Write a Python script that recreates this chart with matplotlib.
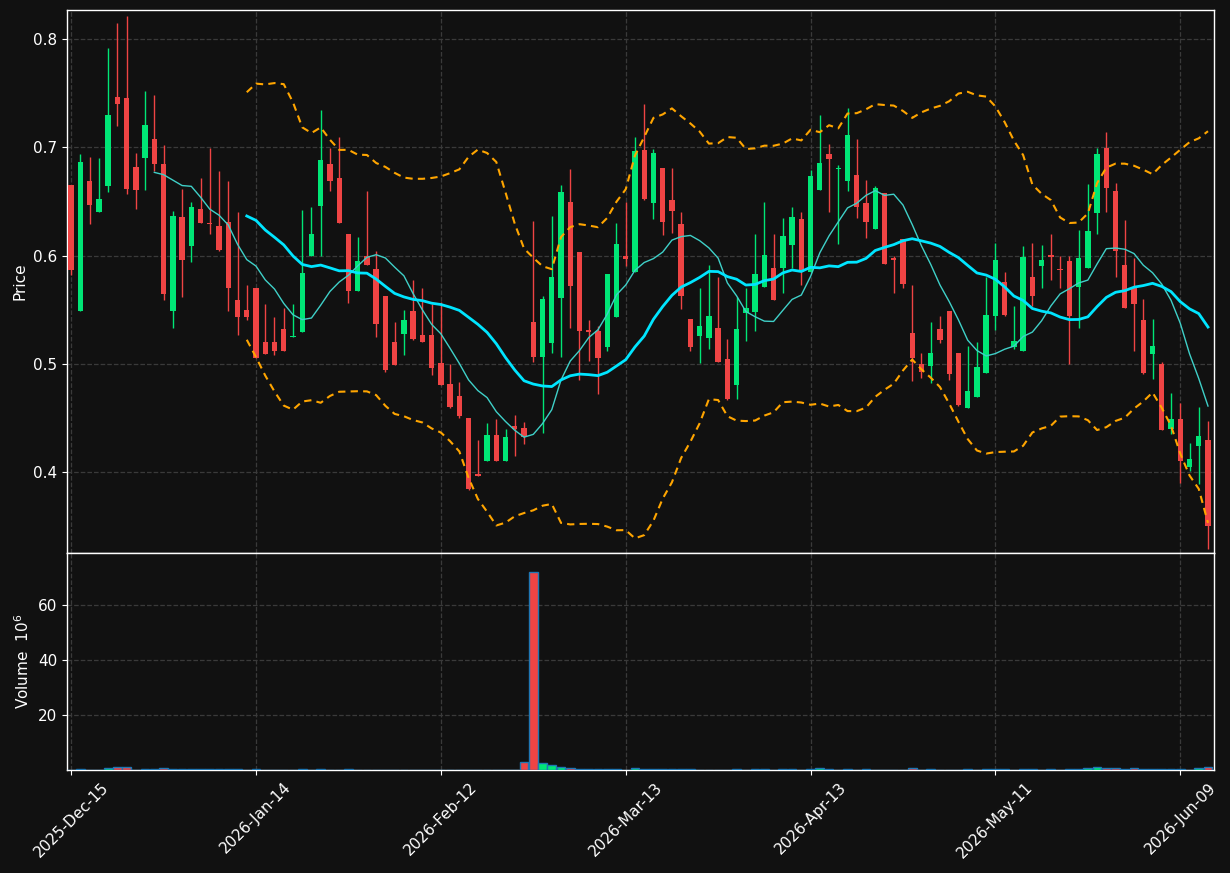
import numpy as np
import pandas as pd
import matplotlib
matplotlib.use("Agg")
import matplotlib.pyplot as plt

# ---------------- data ----------------
holidays = ["2025-12-25", "2026-01-01", "2026-01-19", "2026-02-16", "2026-04-03", "2026-05-25"]
all_days = pd.bdate_range("2025-12-15", "2026-06-12")
dates = all_days[~all_days.isin(pd.to_datetime(holidays))]

opens = [0.6654, 0.5492, 0.6689, 0.6406, 0.6638, 0.7465, 0.7449, 0.6819, 0.6896, 0.7071,
         0.6848, 0.5492, 0.6358, 0.6091, 0.6431, 0.6304, 0.6275, 0.6310, 0.5591, 0.5499,
         0.5702, 0.5203, 0.5203, 0.5324, 0.5244, 0.5298, 0.5992, 0.6453, 0.6848, 0.6718,
         0.6202, 0.5677, 0.5998, 0.5878, 0.5629, 0.5203, 0.5279, 0.5489, 0.5267, 0.5267,
         0.5009, 0.4815, 0.4703, 0.4500, 0.3978, 0.4102, 0.4344, 0.4102, 0.4426, 0.4407,
         0.5387, 0.5066, 0.5193, 0.5604, 0.6495, 0.6033, 0.5314, 0.5305, 0.5158, 0.5429,
         0.5998, 0.5852, 0.6969, 0.6482, 0.6810, 0.6514, 0.6294, 0.5416, 0.5260, 0.5235,
         0.5333, 0.5047, 0.4802, 0.5470, 0.5483, 0.5706, 0.5887, 0.5881, 0.6094, 0.6339,
         0.5852, 0.6600, 0.6940, 0.6794, 0.6692, 0.6746, 0.6488, 0.6240, 0.6581, 0.5979,
         0.6154, 0.5286, 0.4999, 0.4983, 0.5324, 0.5489, 0.5101, 0.4595, 0.4697, 0.4920,
         0.5445, 0.5757, 0.5158, 0.5123, 0.5804, 0.5900, 0.5998, 0.5868, 0.5951, 0.5706,
         0.5881, 0.6390, 0.6991, 0.6597, 0.5916, 0.5702, 0.5407, 0.5095, 0.5000, 0.4395,
         0.4496, 0.4051, 0.4245, 0.4302]
highs = [0.6654, 0.6934, 0.6909, 0.6899, 0.7917, 0.8146, 0.8213, 0.6947, 0.7520, 0.7481,
         0.7020, 0.6409, 0.6613, 0.6492, 0.6714, 0.6994, 0.6784, 0.6689, 0.6400, 0.5725,
         0.5702, 0.5550, 0.5435, 0.5515, 0.5550, 0.6418, 0.6447, 0.7344, 0.6994, 0.7093,
         0.6202, 0.6170, 0.6593, 0.6043, 0.5629, 0.5384, 0.5496, 0.5772, 0.5699, 0.5550,
         0.5572, 0.5000, 0.4831, 0.4500, 0.4302, 0.4452, 0.4490, 0.4395, 0.4525, 0.4465,
         0.6320, 0.5629, 0.6364, 0.6651, 0.6797, 0.6033, 0.5403, 0.5349, 0.5830, 0.6301,
         0.6495, 0.7093, 0.7402, 0.6982, 0.6810, 0.6807, 0.6399, 0.5416, 0.5699, 0.5912,
         0.5801, 0.5228, 0.5620, 0.5699, 0.6199, 0.6495, 0.6199, 0.6345, 0.6447, 0.6399,
         0.6791, 0.7297, 0.7029, 0.6839, 0.7360, 0.7074, 0.6698, 0.6641, 0.6581, 0.5998,
         0.6154, 0.5725, 0.5098, 0.5384, 0.5442, 0.5489, 0.5101, 0.5162, 0.5200, 0.5801,
         0.6119, 0.5852, 0.5534, 0.6088, 0.6119, 0.6097, 0.6199, 0.5998, 0.5992, 0.6234,
         0.6660, 0.6991, 0.7141, 0.6670, 0.6326, 0.5979, 0.5597, 0.5413, 0.5018, 0.4732,
         0.4636, 0.4267, 0.4598, 0.4471]
lows = [0.5820, 0.5492, 0.6291, 0.6406, 0.6587, 0.7195, 0.6568, 0.6428, 0.6603, 0.6781,
        0.5588, 0.5330, 0.5617, 0.5944, 0.6298, 0.6202, 0.6037, 0.5486, 0.5263, 0.5403,
        0.5050, 0.5095, 0.5079, 0.5123, 0.5244, 0.5298, 0.5992, 0.5992, 0.6593, 0.6298,
        0.5566, 0.5677, 0.5916, 0.5247, 0.4923, 0.4993, 0.5079, 0.5222, 0.5203, 0.4897,
        0.4808, 0.4595, 0.4500, 0.3838, 0.3968, 0.4102, 0.4102, 0.4102, 0.4146, 0.4261,
        0.5018, 0.4366, 0.5098, 0.5066, 0.5327, 0.4850, 0.5025, 0.4722, 0.5120, 0.5429,
        0.5900, 0.5852, 0.6511, 0.6336, 0.6189, 0.6208, 0.5505, 0.5117, 0.5006, 0.5142,
        0.5021, 0.4665, 0.4678, 0.5209, 0.5302, 0.5706, 0.5594, 0.5652, 0.5881, 0.5725,
        0.5852, 0.6600, 0.6403, 0.6107, 0.6597, 0.6345, 0.6161, 0.6240, 0.5919, 0.5652,
        0.5699, 0.4840, 0.4869, 0.4821, 0.5193, 0.4850, 0.4608, 0.4595, 0.4697, 0.4920,
        0.5311, 0.5438, 0.5142, 0.5123, 0.5534, 0.5699, 0.5772, 0.5699, 0.5000, 0.5327,
        0.5881, 0.6199, 0.6399, 0.5798, 0.5512, 0.5117, 0.4910, 0.4859, 0.4391, 0.4356,
        0.3905, 0.4013, 0.3895, 0.3290]
closes = [0.5862, 0.6867, 0.6463, 0.6523, 0.7300, 0.7395, 0.6609, 0.6600, 0.7208, 0.6842,
          0.5648, 0.6368, 0.5963, 0.6450, 0.6298, 0.6288, 0.6053, 0.5696, 0.5429, 0.5429,
          0.5050, 0.5095, 0.5120, 0.5123, 0.5250, 0.5839, 0.6202, 0.6883, 0.6692, 0.6298,
          0.5677, 0.5951, 0.5916, 0.5365, 0.4948, 0.4993, 0.5406, 0.5232, 0.5203, 0.4958,
          0.4808, 0.4605, 0.4522, 0.3847, 0.3968, 0.4344, 0.4102, 0.4325, 0.4395, 0.4325,
          0.5066, 0.5601, 0.5804, 0.6590, 0.5715, 0.5308, 0.5298, 0.5050, 0.5830, 0.6110,
          0.5967, 0.6963, 0.6523, 0.6950, 0.6313, 0.6415, 0.5623, 0.5158, 0.5349, 0.5442,
          0.5021, 0.4678, 0.5324, 0.5512, 0.5830, 0.6008, 0.5594, 0.6183, 0.6358, 0.5846,
          0.6737, 0.6858, 0.6886, 0.6807, 0.7115, 0.6444, 0.6313, 0.6622, 0.5919, 0.5954,
          0.5741, 0.5050, 0.4923, 0.5101, 0.5216, 0.4910, 0.4624, 0.4751, 0.4967, 0.5451,
          0.5960, 0.5451, 0.5209, 0.5989, 0.5623, 0.5957, 0.5989, 0.5862, 0.5445, 0.5979,
          0.6228, 0.6940, 0.6619, 0.6046, 0.5512, 0.5556, 0.4920, 0.5165, 0.4391, 0.4496,
          0.4108, 0.4127, 0.4331, 0.3507]
volumes_m = [0.1, 0.25, 0.05, 0.05, 0.6, 1.0, 1.0, 0.05, 0.25, 0.25,
             0.6, 0.25, 0.25, 0.25, 0.25, 0.25, 0.25, 0.25, 0.25, 0.05,
             0.25, 0.05, 0.05, 0.05, 0.05, 0.25, 0.05, 0.25, 0.05, 0.05,
             0.25, 0.05, 0.05, 0.05, 0.05, 0.05, 0.05, 0.05, 0.05, 0.05,
             0.05, 0.05, 0.05, 0.05, 0.05, 0.05, 0.05, 0.05, 0.05, 2.8,
             72.0, 2.7, 1.9, 1.2, 0.6, 0.5, 0.25, 0.25, 0.25, 0.25,
             0.05, 0.6, 0.25, 0.25, 0.25, 0.25, 0.25, 0.25, 0.05, 0.05,
             0.05, 0.05, 0.25, 0.05, 0.25, 0.25, 0.05, 0.25, 0.25, 0.05,
             0.25, 0.7, 0.25, 0.05, 0.25, 0.05, 0.25, 0.05, 0.05, 0.05,
             0.05, 0.7, 0.05, 0.25, 0.05, 0.05, 0.05, 0.25, 0.05, 0.25,
             0.25, 0.25, 0.05, 0.25, 0.25, 0.05, 0.25, 0.05, 0.25, 0.25,
             0.7, 1.1, 0.7, 0.7, 0.25, 0.7, 0.25, 0.25, 0.25, 0.25,
             0.25, 0.05, 0.7, 1.1]

# ---------------- style ----------------
BG = "#111111"
UP = "#00e676"
DOWN = "#ef4444"
GRID = "#3a3a3a"

o = np.array(opens); h = np.array(highs); l = np.array(lows); c = np.array(closes)
v = np.array(volumes_m)
n = len(c)
x = np.arange(n)

close_s = pd.Series(c)
ma10 = close_s.rolling(10).mean()
ma20 = close_s.rolling(20).mean()
sd20 = close_s.rolling(20).std(ddof=0)
bb_up = ma20 + 2 * sd20
bb_dn = ma20 - 2 * sd20

fig = plt.figure(figsize=(12.3, 8.73), dpi=100, facecolor=BG)
left, right = 67 / 1230, 1214 / 1230
top_p = 1 - 10 / 873
mid = 1 - 552.5 / 873
bot_v = 1 - 770 / 873
ax = fig.add_axes([left, mid, right - left, top_p - mid])
axv = fig.add_axes([left, bot_v, right - left, mid - bot_v], sharex=ax)

for a in (ax, axv):
    a.set_facecolor(BG)
    for s in a.spines.values():
        s.set_color("white")
        s.set_linewidth(1.0)
    a.tick_params(colors="white", labelsize=11)
    a.grid(True, color=GRID, linestyle="--", linewidth=0.9)
    a.set_axisbelow(True)

up = c >= o
cols = np.where(up, UP, DOWN)
body_lo = np.minimum(o, c)
body_h = np.maximum(np.abs(c - o), 0.0015)
ax.vlines(x, l, h, colors=cols, linewidth=1.0, zorder=2)
ax.bar(x, body_h, bottom=body_lo, width=0.58, color=cols, linewidth=0, zorder=3)

ax.plot(x, ma10, color="#3fd0c8", linewidth=1.0, zorder=4)
ax.plot(x, ma20, color="#00e5ff", linewidth=2.0, zorder=4)
ax.plot(x, bb_up, color="#ffa500", linewidth=1.5, linestyle=(0, (3.5, 2.5)), zorder=4)
ax.plot(x, bb_dn, color="#ffa500", linewidth=1.5, linestyle=(0, (3.5, 2.5)), zorder=4)

ax.set_ylim(0.326, 0.8265)
ax.set_yticks([0.4, 0.5, 0.6, 0.7, 0.8])
ax.set_ylabel("Price", color="white", fontsize=11)
ax.tick_params(axis="x", labelbottom=False)

axv.bar(x, v, width=0.95, color=cols, edgecolor="#1f77b4", linewidth=1.0, zorder=3)
axv.set_ylim(0, 79.2)
axv.set_yticks([20, 40, 60])
axv.set_ylabel("Volume  $10^{6}$", color="white", fontsize=11)

tick_idx = list(range(0, n, 20))
axv.set_xticks(tick_idx)
axv.set_xticklabels([dates[i].strftime("%Y-%b-%d") for i in tick_idx], rotation=45)
axv.set_xlim(-0.45, n - 1 + 0.65)

fig.savefig("out.png", dpi=100, facecolor=BG)
